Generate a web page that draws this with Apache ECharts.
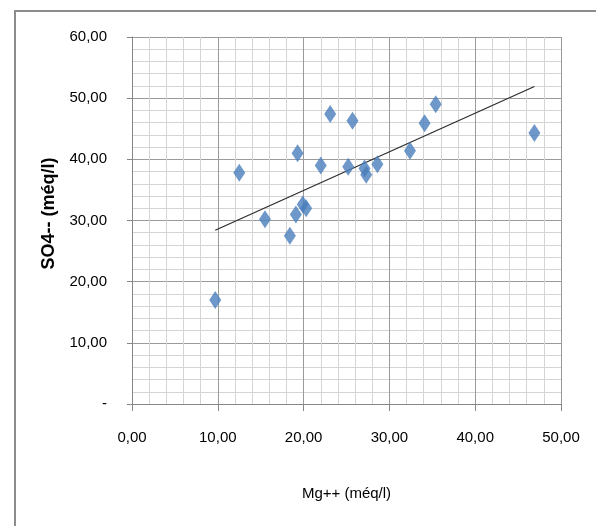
<!DOCTYPE html>
<html>
<head>
<meta charset="utf-8">
<script src="https://cdn.jsdelivr.net/npm/echarts@6/dist/echarts.min.js"></script>
<style>
html,body{margin:0;padding:0;background:#fff;}
#frame{position:absolute;left:14px;top:10px;width:600px;height:530px;border:2px solid #8c8c8c;box-sizing:border-box;}
#c{position:absolute;left:0;top:0;width:596px;height:526px;}
</style>
</head>
<body>
<div id="frame"></div>
<div id="c"></div>
<script>
var mgValues = [9.7, 12.5, 15.5, 18.4, 19.1, 19.3, 19.9, 20.3, 22.0, 23.1, 25.2, 25.7, 27.1, 27.3, 28.6, 32.4, 34.1, 35.4, 46.9];
var so4Values = [17.0, 37.8, 30.2, 27.5, 31.0, 41.0, 32.6, 32.0, 39.0, 47.4, 38.8, 46.3, 38.5, 37.5, 39.2, 41.4, 45.9, 49.0, 44.3];
var trendX = [9.7, 46.9];
var trendY = [28.4, 51.9];
var xTitle = 'Mg++ (méq/l)';
var yTitle = 'SO4-- (méq/l)';

var points = mgValues.map(function (v, i) { return [v, so4Values[i]]; });
var trend = trendX.map(function (v, i) { return [v, trendY[i]]; });
function fmt(v) { return v.toFixed(2).replace('.', ','); }
var labelFont = 'Liberation Sans Narrow, Liberation Sans, sans-serif';

var chart = echarts.init(document.getElementById('c'), null, { renderer: 'canvas' });
chart.setOption({
  animation: false,
  backgroundColor: 'transparent',
  grid: { left: 132, top: 37, right: 35, bottom: 122 },
  xAxis: {
    type: 'value', min: 0, max: 50, interval: 10,
    name: xTitle, nameLocation: 'middle', nameGap: 82,
    nameTextStyle: { fontFamily: labelFont, fontSize: 15, color: '#000' },
    axisLine: { show: true, onZero: false, lineStyle: { color: '#868686', width: 1 } },
    axisTick: { show: true, length: 7, lineStyle: { color: '#868686' } },
    axisLabel: { margin: 26, fontFamily: labelFont, fontSize: 15, color: '#000', formatter: fmt },
    splitLine: { show: true, lineStyle: { color: '#9a9a9a', width: 1 } },
    minorTick: { show: false, splitNumber: 5 },
    minorSplitLine: { show: true, lineStyle: { color: '#d4d4d4', width: 1 } }
  },
  yAxis: {
    type: 'value', min: 0, max: 60, interval: 10,
    name: yTitle, nameLocation: 'middle', nameGap: 74, nameRotate: 90,
    nameTextStyle: { fontFamily: 'Liberation Sans, sans-serif', fontWeight: 'bold', fontSize: 18, color: '#000', padding: [0, 0, 0, 14] },
    axisLine: { show: true, lineStyle: { color: '#868686', width: 1 } },
    axisTick: { show: true, length: 5, lineStyle: { color: '#868686' } },
    axisLabel: { margin: 25, fontFamily: labelFont, fontSize: 15, color: '#000',
      formatter: function (v) { return v === 0 ? '-' : fmt(v); } },
    splitLine: { show: true, lineStyle: { color: '#9a9a9a', width: 1 } },
    minorTick: { show: false, splitNumber: 5 },
    minorSplitLine: { show: true, lineStyle: { color: '#d4d4d4', width: 1 } }
  },
  series: [
    {
      type: 'line', data: trend, symbol: 'none', silent: true,
      lineStyle: { color: '#2b2b2b', width: 1.2 }, z: 3
    },
    {
      type: 'scatter', data: points, symbol: 'diamond', symbolSize: [12, 18],
      itemStyle: { color: '#4a7ebb' }, z: 4
    }
  ]
});
</script>
</body>
</html>
